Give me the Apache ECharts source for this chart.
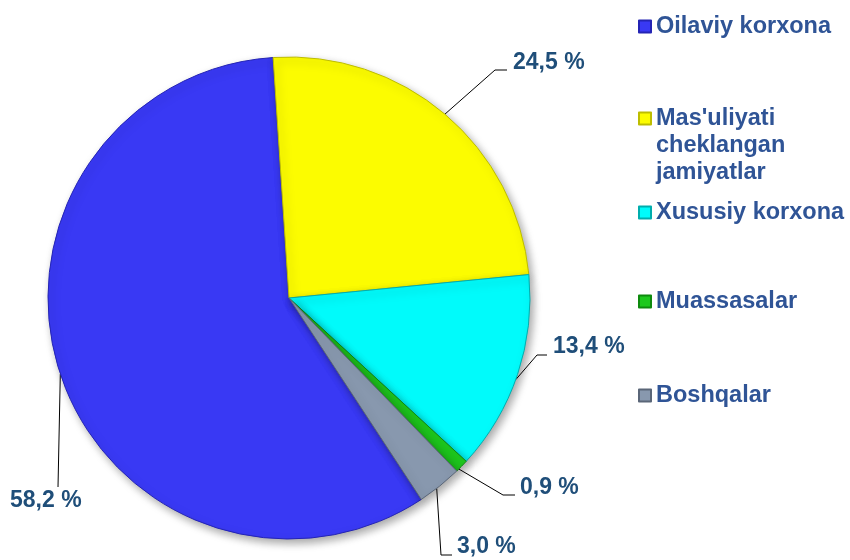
<!DOCTYPE html>
<html>
<head>
<meta charset="utf-8">
<script src="https://cdn.jsdelivr.net/npm/echarts@6/dist/echarts.min.js"></script>
<style>
  html, body { margin: 0; padding: 0; background: #fff; }
  #chart { width: 850px; height: 560px; }
</style>
</head>
<body>
<div id="chart"></div>
<script>
// ================= DADOS =================
const categorias = ['Oilaviy korxona', "Mas'uliyati\ncheklangan\njamiyatlar", 'Xususiy korxona', 'Muassasalar', 'Boshqalar'];
const valores = [58.2, 24.5, 13.4, 0.9, 3.0];
const cores = ['#3939F4', '#FCFC00', '#00FBFB', '#1EC81E', '#8898AE'];
const bordas = ['#2424B4', '#BDBD00', '#00ADAD', '#0E8A0E', '#5A6678'];

// ================= LAYOUT =================
const centro = [289, 298];
const raio = 241;
// posição dos rótulos (esquerda, centro vertical)
const posRotulos = [[10, 501], [513, 63], [553, 347], [520, 488], [457, 547]];
// ângulo (graus) do ponto de saída da linha guia na borda da pizza
const angulosGuia = [-161.6, 49.7, -19.8, -45.2, -52.2];
// cotovelo e fim de cada linha guia
const pontosGuia = [
    [[58, 487]],
    [[495, 70], [507, 70]],
    [[537, 355], [547, 355]],
    [[503, 495], [515, 495]],
    [[441, 555], [452, 555]]
];
// topo de cada legenda
const topoLegendas = [13, 51, 199, 288, 382];

const grafico = echarts.init(document.getElementById('chart'));

function formatarPct(v) {
    return v.toFixed(1).replace('.', ',') + ' %';
}

function pontoNaBorda(graus) {
    const a = graus * Math.PI / 180;
    return [centro[0] + raio * Math.cos(a), centro[1] - raio * Math.sin(a)];
}

const legendas = categorias.map((nome, i) => ({
    data: [nome],
    left: 638,
    top: topoLegendas[i],
    orient: 'vertical',
    padding: 0,
    icon: 'rect',
    itemWidth: 12,
    itemHeight: 12,
    selectedMode: false,
    // nomes com várias linhas: o ícone fica alinhado à primeira linha
    formatter: n => n.indexOf('\n') >= 0 ? '\n\n' + n : n,
    textStyle: {
        fontFamily: 'Liberation Sans',
        fontWeight: 'bold',
        fontSize: 23.5,
        lineHeight: 27,
        color: '#2F5496'
    }
}));

const option = {
    animation: false,
    legend: legendas,
    series: [{
        type: 'pie',
        center: centro,
        radius: raio,
        startAngle: 303.3,
        clockwise: true,
        data: categorias.map((nome, i) => ({
            name: nome,
            value: valores[i],
            itemStyle: { color: cores[i], borderColor: bordas[i], borderWidth: 1 }
        })),
        itemStyle: {
            shadowBlur: 8,
            shadowOffsetX: 3,
            shadowOffsetY: 4,
            shadowColor: 'rgba(0,0,0,0.35)'
        },
        label: {
            show: true,
            formatter: p => formatarPct(p.value),
            fontFamily: 'Liberation Sans',
            fontWeight: 'bold',
            fontSize: 23,
            color: '#1F4E79',
            // largura fixa para o rótulo da esquerda não ser cortado
            width: 100,
            overflow: 'none'
        },
        labelLine: {
            show: true,
            lineStyle: { color: '#000', width: 1 }
        },
        labelLayout: p => ({
            x: posRotulos[p.dataIndex][0],
            y: posRotulos[p.dataIndex][1],
            align: 'left',
            verticalAlign: 'middle',
            labelLinePoints: [pontoNaBorda(angulosGuia[p.dataIndex])].concat(pontosGuia[p.dataIndex])
        })
    }]
};

grafico.setOption(option);
</script>
</body>
</html>
